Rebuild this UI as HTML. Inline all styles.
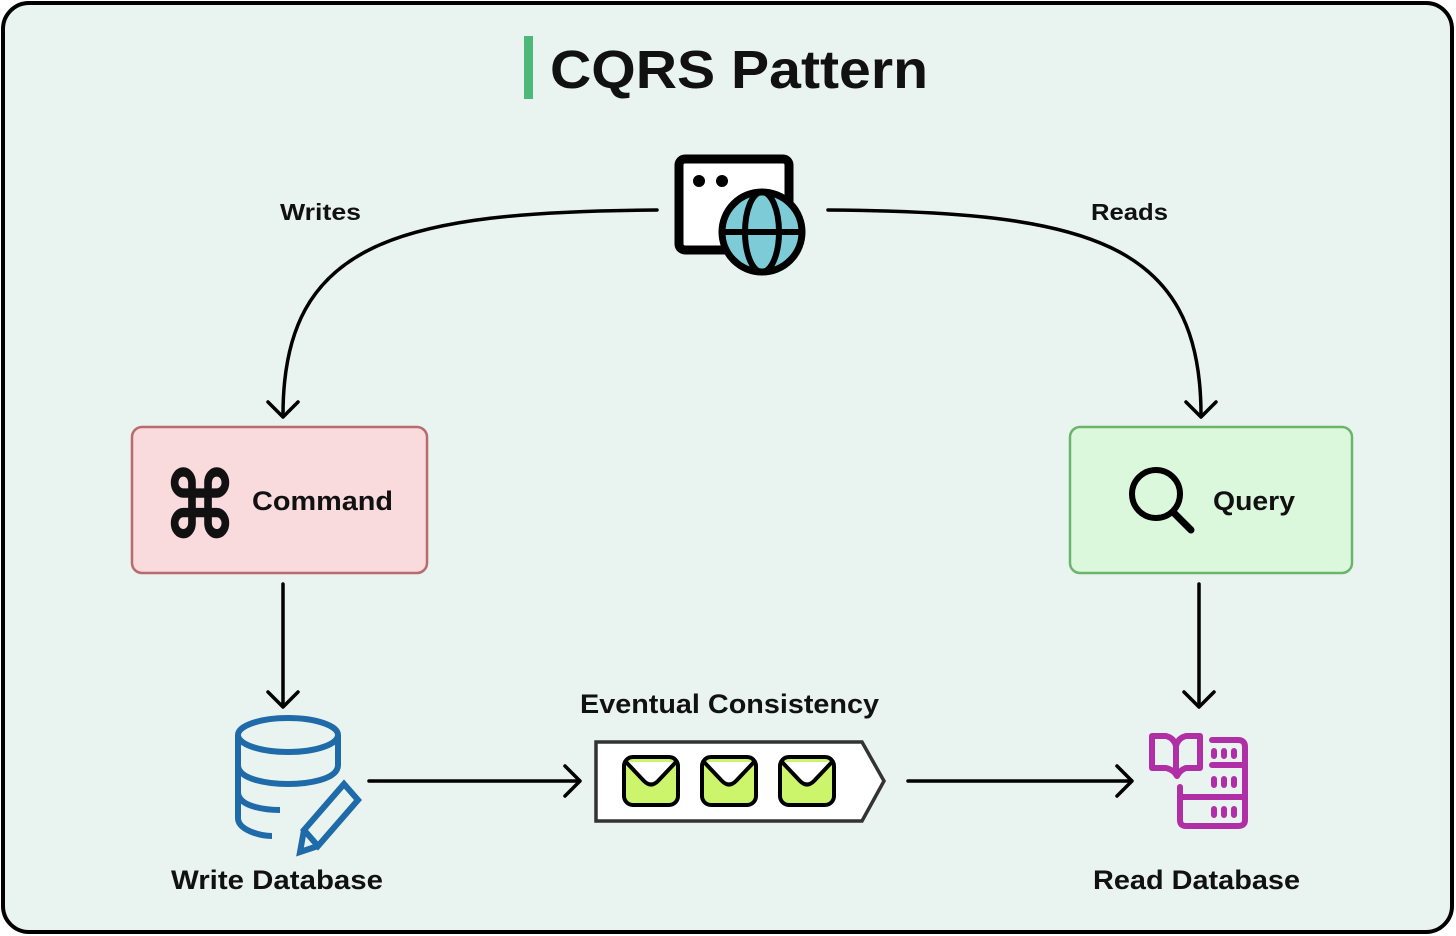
<!DOCTYPE html>
<html><head><meta charset="utf-8"><style>
html,body{margin:0;padding:0;background:#fff;}
svg{display:block;}
text{font-family:"Liberation Sans",sans-serif;font-weight:bold;fill:#111;}
</style></head><body>
<svg width="1456" height="936" viewBox="0 0 1456 936" xmlns="http://www.w3.org/2000/svg">
<rect x="3" y="3" width="1449" height="929" rx="26" fill="#e9f3ef" stroke="#000" stroke-width="4"/>
<rect x="524" y="36" width="9" height="63" fill="#4cb87a"/>
<text x="550" y="88" font-size="54" textLength="378" lengthAdjust="spacingAndGlyphs">CQRS Pattern</text>

<!-- web icon -->
<rect x="679" y="159" width="110" height="91" rx="6" fill="#fff" stroke="#000" stroke-width="9"/>
<circle cx="699" cy="181" r="6" fill="#000"/><circle cx="722" cy="181" r="6" fill="#000"/>
<circle cx="762" cy="232" r="40" fill="#7ecbd8" stroke="#000" stroke-width="7"/>
<ellipse cx="762" cy="232" rx="17" ry="40" fill="none" stroke="#000" stroke-width="6"/>
<line x1="722" y1="232" x2="802" y2="232" stroke="#000" stroke-width="6"/>

<!-- curves -->
<g fill="none" stroke="#000" stroke-width="3.5" stroke-linecap="round" stroke-linejoin="round">
<path d="M657 210 C 400 212, 283 240, 283 415"/>
<path d="M268 402 L283 417 L298 402"/>
<path d="M828 210 C 1085 212, 1201 240, 1201 415"/>
<path d="M1186 402 L1201 417 L1216 402"/>
<path d="M283 584 V705"/><path d="M268 692 L283 707 L298 692"/>
<path d="M1199 584 V705"/><path d="M1184 692 L1199 707 L1214 692"/>
<path d="M369 781 H578"/><path d="M565 766 L580 781 L565 796"/>
<path d="M908 781 H1130"/><path d="M1117 766 L1132 781 L1117 796"/>
</g>
<text x="280" y="220" font-size="23" textLength="81" lengthAdjust="spacingAndGlyphs">Writes</text>
<text x="1091" y="220" font-size="23" textLength="77" lengthAdjust="spacingAndGlyphs">Reads</text>

<!-- command -->
<rect x="132" y="427" width="295" height="146" rx="10" fill="#f9dadd" stroke="#b86a6e" stroke-width="2.5"/>
<text x="163" y="537" font-size="90" font-weight="normal" textLength="74" lengthAdjust="spacingAndGlyphs">⌘</text>
<text x="252" y="510" font-size="27" textLength="141" lengthAdjust="spacingAndGlyphs">Command</text>
<!-- query -->
<rect x="1070" y="427" width="282" height="146" rx="10" fill="#dcf8dc" stroke="#6ab56a" stroke-width="2.5"/>
<circle cx="1156" cy="494" r="24" fill="none" stroke="#000" stroke-width="6"/>
<line x1="1173" y1="512" x2="1191" y2="530" stroke="#000" stroke-width="7" stroke-linecap="round"/>
<text x="1213" y="510" font-size="27" textLength="82" lengthAdjust="spacingAndGlyphs">Query</text>

<!-- write db -->
<g fill="none" stroke="#1f6aa8" stroke-width="6">
<ellipse cx="288" cy="735" rx="50" ry="17"/>
<path d="M238 735 V818 C238 830 260 836 272 836"/>
<path d="M338 735 V765"/>
<path d="M238 765 C238 780 270 784 288 784 C306 784 338 780 338 765"/>
<path d="M238 792 C238 808 270 810 280 810"/>
<path d="M344 784 L358 800 L318 846 L304 830 Z M304 830 L300 852 L318 846"/>
</g>
<text x="171" y="889" font-size="27" textLength="212" lengthAdjust="spacingAndGlyphs">Write Database</text>

<!-- queue -->
<text x="580" y="713" font-size="27" textLength="299" lengthAdjust="spacingAndGlyphs">Eventual Consistency</text>
<path d="M596 742 H862 L884 781 L862 821 H596 Z" fill="#fff" stroke="#333" stroke-width="3.5"/>
<g stroke="#000" stroke-width="4">
<g><rect x="624" y="757" width="54" height="48" rx="9" fill="#ccf56b"/><path d="M626 762 L644 781 Q651 788 658 781 L676 762" fill="#fff"/></g>
<g><rect x="702" y="757" width="54" height="48" rx="9" fill="#ccf56b"/><path d="M704 762 L722 781 Q729 788 736 781 L754 762" fill="#fff"/></g>
<g><rect x="780" y="757" width="54" height="48" rx="9" fill="#ccf56b"/><path d="M782 762 L800 781 Q807 788 814 781 L832 762" fill="#fff"/></g>
</g>

<!-- read db -->
<g fill="none" stroke="#b02fa6" stroke-width="6" stroke-linejoin="round" stroke-linecap="round">
<path d="M1152 736 H1166 Q1174 738 1176 746 Q1178 738 1186 736 H1200 V768 H1186 Q1180 770 1177 776 Q1174 770 1166 768 H1152 Z"/>
<path d="M1176 746 V774"/>
<path d="M1212 740 H1238 Q1245 740 1245 747 V820 Q1245 826 1238 826 H1186 Q1180 826 1180 820 V787"/>
<path d="M1212 765 H1245 M1180 797 H1245"/>
<path d="M1214 751 V756 M1224 751 V756 M1234 751 V756 M1214 779 V785 M1224 779 V785 M1234 779 V785 M1214 809 V815 M1224 809 V815 M1234 809 V815"/>
</g>
<text x="1093" y="889" font-size="27" textLength="207" lengthAdjust="spacingAndGlyphs">Read Database</text>
</svg>
</body></html>
